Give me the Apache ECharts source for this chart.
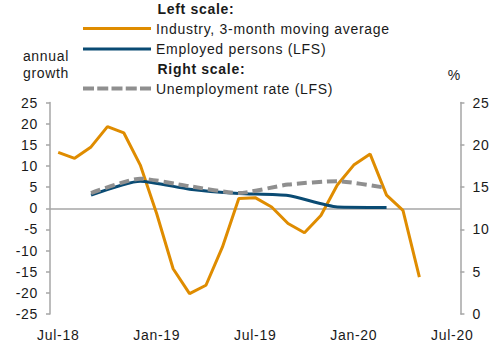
<!DOCTYPE html>
<html>
<head>
<meta charset="utf-8">
<script src="https://cdn.jsdelivr.net/npm/echarts@6/dist/echarts.min.js"></script>
<style>
  html, body { margin: 0; padding: 0; background: #fff; }
  #chart { width: 491px; height: 344px; }
  #chart text { letter-spacing: 0.7px; }
</style>
</head>
<body>
<div id="chart"></div>
<script>
// Monthly categories, Jul-18 .. Jul-20
const months = ['Jul-18','Aug-18','Sep-18','Oct-18','Nov-18','Dec-18',
                'Jan-19','Feb-19','Mar-19','Apr-19','May-19','Jun-19',
                'Jul-19','Aug-19','Sep-19','Oct-19','Nov-19','Dec-19',
                'Jan-20','Feb-20','Mar-20','Apr-20','May-20','Jun-20','Jul-20'];

// Industry, 3-month moving average (annual growth, left scale)
const industry = [13.2, 11.8, 14.5, 19.3, 17.8, 10.2,
                  -1.3, -14.3, -20.2, -18.2, -9.2, 2.3,
                  2.5, 0.3, -3.6, -5.8, -1.7, 5.5,
                  10.2, 12.8, 3.1, -0.5, -16.3, null, null];

// Employed persons (LFS), quarterly (annual growth, left scale)
const employed = [null, null, 3.1, null, null, 6.4,
                  null, null, 4.5, null, null, 3.5,
                  null, null, 3.0, null, null, 0.3,
                  null, null, 0.2, null, null, null, null];

// Unemployment rate (LFS), quarterly (%, right scale)
const unemployment = [null, null, 14.3, null, null, 16.0,
                      null, null, 15.1, null, null, 14.3,
                      null, null, 15.3, null, null, 15.7,
                      null, null, 14.9, null, null, null, null];

const FONT = 'Liberation Sans, Arial, sans-serif';
const TEXT = '#1a1a1a';
const AXIS = '#a6a6a6';
const ORANGE = '#DF8C00';
const BLUE = '#0A4B73';
const GREY = '#8F8F8F';

// legend key shapes: a solid bar and a five-dash bar
const SOLID_KEY = 'rect';
const DASH_KEY = 'path://M0,0h11v4h-11z M14.25,0h11v4h-11z M28.5,0h11v4h-11z M42.75,0h11v4h-11z M57,0h11v4h-11z';

function legendRow(name, top, icon, color, h) {
  return {
    data: [{ name: name, icon: icon, itemStyle: { color: color } }],
    orient: 'vertical', left: 83, top: top, padding: 0,
    itemWidth: 68, itemHeight: h, itemGap: 0,
    textStyle: { fontSize: 14, color: TEXT, fontFamily: FONT },
    selectedMode: false
  };
}

const chart = echarts.init(document.getElementById('chart'), null, { renderer: 'svg' });

chart.setOption({
  animation: false,
  backgroundColor: '#fff',
  textStyle: { fontFamily: FONT, color: TEXT },
  grid: { left: 50, right: 29, top: 102.5, bottom: 30 },
  graphic: [
    { type: 'text', left: 157.5, top: 2,
      style: { text: 'Left scale:', font: 'bold 14px ' + FONT, fill: TEXT } },
    { type: 'text', left: 157.5, top: 62,
      style: { text: 'Right scale:', font: 'bold 14px ' + FONT, fill: TEXT } }
  ],
  legend: [
    legendRow('Industry, 3-month moving average', 21.5, SOLID_KEY, ORANGE, 3),
    legendRow('Employed persons (LFS)', 42, SOLID_KEY, BLUE, 3),
    legendRow('Unemployment rate (LFS)', 81.5, DASH_KEY, GREY, 4)
  ],
  xAxis: {
    type: 'category',
    data: months,
    boundaryGap: true,
    axisLine: { show: false },
    axisTick: { show: false },
    axisLabel: { interval: 5, margin: 14, fontSize: 14, color: TEXT, fontFamily: FONT },
    splitLine: { show: false }
  },
  yAxis: [
    {
      type: 'value', position: 'left',
      min: -25, max: 25, interval: 5,
      name: 'annual\ngrowth', nameLocation: 'end', nameGap: 21,
      nameTextStyle: { fontSize: 14, lineHeight: 17, color: TEXT, fontFamily: FONT, padding: [0, 8, 0, 0] },
      axisLine: { show: true, lineStyle: { color: AXIS, width: 1.5 } },
      axisTick: { show: true, length: 4, lineStyle: { color: AXIS, width: 1.5 } },
      axisLabel: { margin: 12, fontSize: 14, color: TEXT, fontFamily: FONT },
      splitLine: { show: false }
    },
    {
      type: 'value', position: 'right',
      min: 0, max: 25, interval: 5,
      name: '%', nameLocation: 'end', nameGap: 21,
      nameTextStyle: { fontSize: 14, color: TEXT, fontFamily: FONT, padding: [0, 12, 0, 0] },
      axisLine: { show: true, lineStyle: { color: AXIS, width: 1.5 } },
      axisTick: { show: true, length: 4, lineStyle: { color: AXIS, width: 1.5 } },
      axisLabel: { margin: 12, fontSize: 14, color: TEXT, fontFamily: FONT },
      splitLine: { show: false }
    }
  ],
  series: [
    {
      name: 'Industry, 3-month moving average',
      type: 'line', yAxisIndex: 0,
      data: industry,
      symbol: 'none',
      lineStyle: { color: ORANGE, width: 3 },
      itemStyle: { color: ORANGE },
      markLine: {
        silent: true, symbol: 'none', z: 1,
        label: { show: false },
        lineStyle: { color: AXIS, width: 1.5, type: 'solid' },
        data: [{ yAxis: 0 }]
      }
    },
    {
      name: 'Employed persons (LFS)',
      type: 'line', yAxisIndex: 0,
      data: employed,
      connectNulls: true,
      smooth: 0.2,
      symbol: 'none',
      lineStyle: { color: BLUE, width: 3 },
      itemStyle: { color: BLUE }
    },
    {
      name: 'Unemployment rate (LFS)',
      type: 'line', yAxisIndex: 1,
      data: unemployment,
      connectNulls: true,
      smooth: 0.2,
      symbol: 'none',
      lineStyle: { color: GREY, width: 4, type: [10, 5] },
      itemStyle: { color: GREY }
    }
  ]
});
</script>
</body>
</html>
